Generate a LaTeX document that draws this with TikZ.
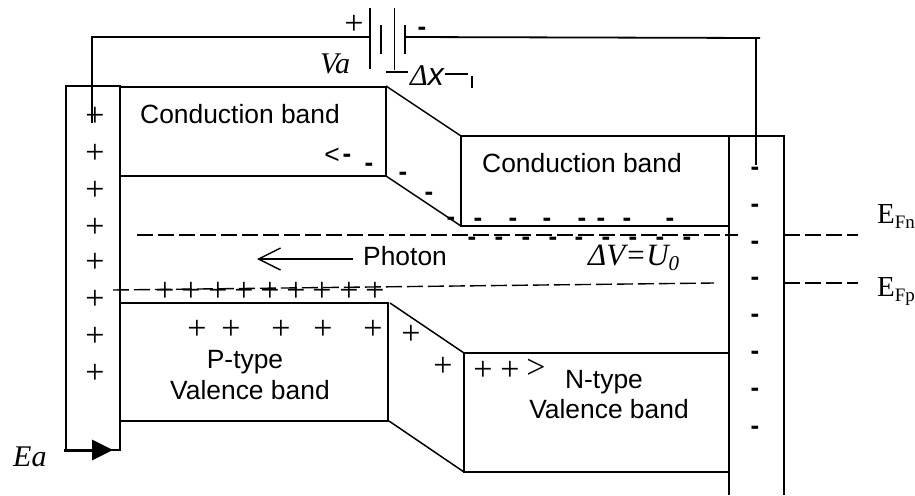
\documentclass[tikz,border=0pt]{standalone}
\usepackage{fontspec}
\setmainfont{Liberation Sans}
\newfontfamily\timesfont{Liberation Serif}
\newfontfamily\arialfont{Liberation Sans}
\usepackage{tikz}
\usetikzlibrary{arrows.meta}

\tikzset{
  band/.style={draw, line width=1.8pt},
  slope/.style={draw, line width=1.5pt},
  wire/.style={draw, line width=1.8pt},
  plate/.style={draw, line width=1.3pt},
  level/.style={draw, line width=1.4pt, dash pattern=on 16pt off 5pt},
  label/.style={inner sep=0pt, anchor=base, font=\fontsize{26.4}{30}\selectfont},
  mathlabel/.style={inner sep=0pt, anchor=base west, font=\timesfont\itshape\fontsize{30}{34}\selectfont},
  fermi/.style={inner sep=0pt, anchor=base west, font=\timesfont\fontsize{29}{32}\selectfont},
  minus/.style={inner sep=0pt, anchor=base, font=\bfseries\fontsize{26}{30}\selectfont},
  plus/.style={inner sep=0pt, anchor=base, font=\timesfont\fontsize{34}{38}\selectfont},
}

\begin{document}
\begin{tikzpicture}[x=1pt, y=-1pt]
\useasboundingbox (0,0) rectangle (915,495);

% contact strips
\path[band] (66,450) -- (66,86) -- (120,86) -- (120,450) -- cycle;
\path[band] (729,495) -- (729,136) -- (784,136) -- (784,495);

% conduction band
\path[band] (120,87) rectangle (386,176);
\path[band] (461,136) rectangle (729,226);
\path[slope] (386,86) -- (461,136);
\path[slope] (386,176) -- (461,226);

% valence band
\path[band] (120,303) rectangle (388,421);
\path[band] (464,353) rectangle (729,472);
\path[slope] (390,303) -- (464,353);
\path[slope] (389,421) -- (464,472);

% battery and leads
\path[wire] (92,123) -- (92,37) -- (370,37);
\path[wire] (405,37) -- (760,38);
\path[wire] (756,38) -- (756,165);
\foreach \px/\py/\qy in {370/8/69, 381/25/54, 394.5/8/70, 405/25/54}
  \path[plate] (\px,\py) -- (\px,\qy);
\node[plus] (batplus) at (354,35) {+};
\node[minus] (batminus) at (422,36) {-};
\node[mathlabel] (va) at (320,74) {Va};

% width mark
\path[plate] (386,72) -- (408,72);
\path[plate] (445,74) -- (468,74);
\path[plate] (472,76) -- (472,88);
\node[mathlabel] (dx) at (410,85) {Δ{\arialfont\itshape\fontsize{32}{34}\selectfont x}};

% Fermi levels
\path[level] (137,235) -- (738,235);
\path[level] (784,235) -- (858,235);
\path[level] (113,290) -- (714,283);
\path[level] (784,283) -- (858,283);
\node[fermi] (efn) at (877,223) {E\raisebox{-5pt}{\fontsize{19}{19}\selectfont Fn}};
\node[fermi] (efp) at (877,296) {E\raisebox{-5pt}{\fontsize{19}{19}\selectfont Fp}};
\node[mathlabel, font=\timesfont\itshape\fontsize{31}{34}\selectfont] (dv) at (588,265) {ΔV=U\raisebox{-5pt}{\fontsize{21}{21}\selectfont 0}};

% photon
\node[label, anchor=base west] (photon) at (363,265) {Photon};
\coordinate (photonend) at (257,259);
\draw[line width=1.4pt, -{Straight Barb[length=22pt, width=22pt, line width=1.4pt]}] (353,259) -- (photonend);

% field
\node[mathlabel] (ea) at (13,466) {Ea};
\coordinate (eastart) at (64,450);
\coordinate (eaend) at (113,450);
\draw[line width=3pt, -{Triangle[length=21pt, width=20pt]}] (eastart) -- (eaend);

% band labels
\node[label] (cbp) at (240,123) {Conduction band};
\node[label] (cbn) at (582,172) {Conduction band};
\node[label] (ptype) at (245,368) {P-type};
\node[label] (vbp) at (250,399) {Valence band};
\node[label] (ntype) at (604,388) {N-type};
\node[label] (vbn) at (609,418) {Valence band};

% holes
\foreach \py in {115,152,189,226,261,298,335,372}
  \node[plus] at (95,\py+11) {+};
\foreach \px in {165,191,218,244,270,296,322,349,375}
  \node[plus] at (\px,301) {+};
\foreach \px in {197,231,281,323,373}
  \node[plus] at (\px,339) {+};
\node[plus] at (411,344) {+};
\node[plus] at (443,376) {+};
\node[plus] at (483,380) {+};
\node[plus] at (510,380) {+};
\node[plus] (holearrow) at (536,378) {>};

% electrons
\foreach \py in {168,205,242,278,315,352,389,427}
  \node[minus] at (755,\py+7) {-};
\node[label] (elecarrow) at (332,163) {<};
\foreach \px/\py in {347/155, 369/164, 403/173, 429/193, 451/218}
  \node[minus] at (\px,\py+7) {-};
\foreach \px in {478,513,547,582,601,627,670}
  \node[minus] at (\px,226) {-};
\foreach \px in {472,499,526,553,579,606,633,660,687}
  \node[minus] at (\px,245) {-};
\end{tikzpicture}
\end{document}
